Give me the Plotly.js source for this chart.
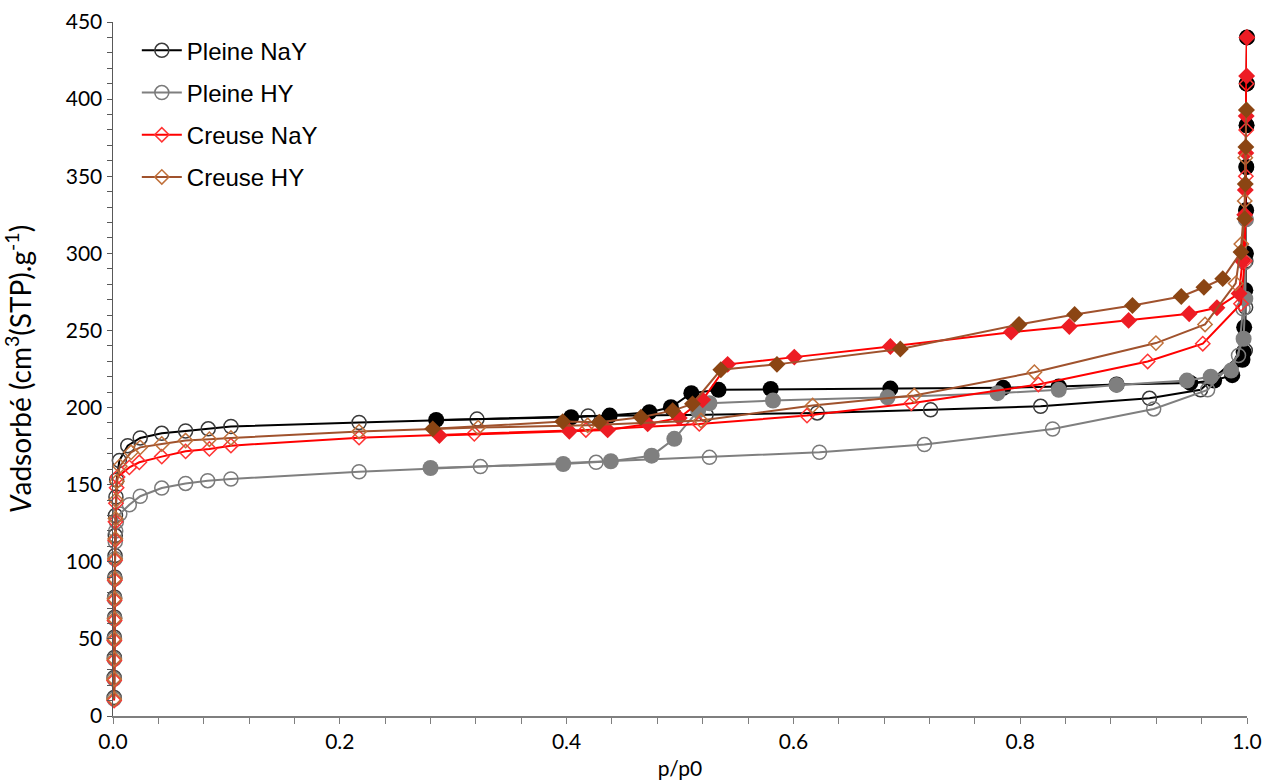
<!DOCTYPE html>
<html>
<head>
<meta charset="utf-8">
<script src="https://cdn.plot.ly/plotly-3.0.1.min.js"></script>
<style>
html,body{margin:0;padding:0;background:#fff;}
#chart{width:1268px;height:782px;}
</style>
</head>
<body>
<div id="chart"></div>
<script>
// ---------- DATA ----------
const seriesNames = ["Pleine NaY", "Pleine HY", "Creuse NaY", "Creuse HY"];

// Pleine NaY – adsorption (open) / desorption (filled)
const pleineNaY_adsX = [0.0010,0.0010,0.0012,0.0012,0.0014,0.0014,0.0016,0.0018,0.0020,0.0022,0.0026,0.0032,0.0056,0.013,0.024,0.043,0.064,0.084,0.104,0.217,0.321,0.419,0.523,0.621,0.721,0.818,0.914,0.959,0.9985,0.9988,0.9990,0.9992,0.9994,0.9996,0.9998,1.0];
const pleineNaY_adsY = [12,25,38,51,64,77,90,104,117,130,142,153,165.6,175.3,180.3,183.3,184.8,186.2,187.7,190.3,192.5,194.5,195.3,196.5,198.5,200.8,206,211.5,237,265,295,328,356,383,410,440];
const pleineNaY_desX = [1.0,0.9998,0.9996,0.9994,0.9992,0.999,0.9985,0.9975,0.997,0.996,0.987,0.971,0.95,0.885,0.834,0.785,0.6855,0.58,0.534,0.51,0.492,0.473,0.438,0.404,0.285];
const pleineNaY_desY = [440,410,383,356,328,300,276,252,236,231,221,217.5,216,215,213.6,212.8,212.3,212.1,211.5,209.3,200.2,197,194.8,193.7,192];

// Pleine HY
const pleineHY_adsX = [0.0010,0.0010,0.0012,0.0012,0.0014,0.0014,0.0016,0.0018,0.0020,0.0024,0.0030,0.006,0.0144,0.024,0.043,0.064,0.0835,0.104,0.217,0.324,0.426,0.526,0.623,0.7155,0.8286,0.9177,0.9653,0.9925,0.9965,0.998,0.999];
const pleineHY_adsY = [11,24,37,50,63,76,89,102,113,120,126,131,137,142.5,147.8,150.8,152.6,153.7,158.4,161.7,164.5,167.7,171,176,186.1,199.1,211.5,233.8,264,294,322];
const pleineHY_desX = [0.999,0.9985,0.997,0.986,0.968,0.947,0.885,0.834,0.78,0.683,0.582,0.526,0.516,0.495,0.475,0.439,0.397,0.28];
const pleineHY_desY = [322,270.6,244.6,224,220,217.5,214.7,211.5,209.3,206.7,204.5,202.8,198,179.7,168.8,165.2,163.4,160.8];

// Creuse NaY
const creuseNaY_adsX = [0.0010,0.0010,0.0012,0.0012,0.0014,0.0014,0.0016,0.0018,0.0020,0.0022,0.0026,0.0032,0.0040,0.0144,0.0232,0.043,0.064,0.085,0.104,0.217,0.3186,0.417,0.517,0.612,0.704,0.816,0.9124,0.961,0.9947,0.998,0.9985,0.999,0.9993,0.9996,0.9999];
const creuseNaY_adsY = [10,23,36,49,62,75,88,101,114,126,138,148,155,161.2,164.5,168.2,171.6,173.2,175.3,180.5,183,185.5,189.4,194.8,202.8,215,229.9,241.4,267.3,295,322,350,380,410,440];
const creuseNaY_desX = [0.9999,0.9997,0.9993,0.999,0.9985,0.998,0.996,0.993,0.9735,0.949,0.8956,0.8433,0.792,0.6855,0.6008,0.542,0.52,0.4994,0.4715,0.4362,0.4024,0.2878];
const creuseNaY_desY = [440,415,389,365,341,325,295,274,264.7,260.8,256.5,252.6,248.9,239.6,232.7,228,205,193.3,189.4,185.5,184.6,181.8];

// Creuse HY
const creuseHY_adsX = [0.0010,0.0010,0.0012,0.0012,0.0014,0.0014,0.0016,0.0018,0.0020,0.0022,0.0026,0.0034,0.0060,0.0159,0.024,0.043,0.064,0.085,0.104,0.217,0.322,0.4186,0.5185,0.617,0.7066,0.8125,0.9197,0.963,0.99,0.995,0.998,0.9985,0.9995];
const creuseHY_adsY = [11,24,37,50,63,76,89,102,115,128,140,152,162,171,174.2,176.4,178.6,179.5,180.3,184.4,187,188.5,191.6,201.3,207.8,222.9,241.8,253.9,280.5,306,334,362,393];
const creuseHY_desX = [0.9995,0.999,0.9985,0.998,0.9947,0.9786,0.962,0.942,0.899,0.848,0.799,0.6943,0.5855,0.536,0.511,0.4935,0.4656,0.4288,0.3966,0.282];
const creuseHY_desY = [393,369,345,322.5,300.8,283.6,278,272,266.2,260.4,253.9,238,228,224.5,202.4,198,193.7,190.5,190.9,186.2];

const xTickVals = [0, 0.2, 0.4, 0.6, 0.8, 1.0];
const xTickText = ["0.0", "0.2", "0.4", "0.6", "0.8", "1.0"];

// ---------- STYLE ----------
function pair(name, group, adsX, adsY, desX, desY, lineColor, openSym, openColor, fillSym, fillColor, openSize, fillSize) {
  return [
    {
      x: adsX, y: adsY, name: name, legendgroup: group, showlegend: true,
      type: "scatter", mode: "lines+markers", cliponaxis: false,
      line: {color: lineColor, width: 2},
      marker: {symbol: openSym, size: openSize, color: openColor, line: {color: openColor, width: 1.5}}
    },
    {
      x: desX, y: desY, name: name + " (désorption)", legendgroup: group, showlegend: false,
      type: "scatter", mode: "lines+markers", cliponaxis: false,
      line: {color: lineColor, width: 2},
      marker: {symbol: fillSym, size: fillSize, color: fillColor, line: {width: 0}}
    }
  ];
}

const data = [].concat(
  pair(seriesNames[0], "g1", pleineNaY_adsX, pleineNaY_adsY, pleineNaY_desX, pleineNaY_desY, "#000000", "circle-open", "#3a3a3a", "circle", "#000000", 14, 16),
  pair(seriesNames[1], "g2", pleineHY_adsX, pleineHY_adsY, pleineHY_desX, pleineHY_desY, "#7f7f7f", "circle-open", "#7a7a7a", "circle", "#7f7f7f", 14, 16),
  pair(seriesNames[2], "g3", creuseNaY_adsX, creuseNaY_adsY, creuseNaY_desX, creuseNaY_desY, "#ff0000", "diamond-open", "#ff3333", "diamond", "#ed1c24", 11, 13),
  pair(seriesNames[3], "g4", creuseHY_adsX, creuseHY_adsY, creuseHY_desX, creuseHY_desY, "#a0522d", "diamond-open", "#c0703a", "diamond", "#8b4513", 11, 13)
);

const tickFont = {family: "Lato, 'Open Sans', sans-serif", size: 21, color: "#000"};

const layout = {
  width: 1268, height: 782,
  paper_bgcolor: "#fff", plot_bgcolor: "#fff",
  margin: {l: 113, r: 21, t: 22, b: 66},
  showlegend: true,
  legend: {
    x: 0.021, y: 0.991, xanchor: "left", yanchor: "top",
    font: {family: "'Liberation Sans', Arial, sans-serif", size: 24, color: "#000"},
    bgcolor: "rgba(255,255,255,0)", borderwidth: 0,
    traceorder: "grouped", tracegroupgap: 8, itemwidth: 40
  },
  xaxis: {
    range: [0, 1.0], showgrid: false, zeroline: false,
    showline: true, linecolor: "#7f7f7f", linewidth: 1.5,
    tickmode: "array", tickvals: xTickVals, ticktext: xTickText,
    ticks: "outside", ticklen: 6, tickcolor: "#7f7f7f", tickwidth: 1,
    minor: {dtick: 0.04, tick0: 0, ticks: "outside", ticklen: 6, tickcolor: "#7f7f7f", tickwidth: 1, showgrid: false},
    tickfont: tickFont,
    title: {text: "p/p0", font: tickFont, standoff: 9},
    automargin: false
  },
  yaxis: {
    range: [0, 450], showgrid: false, zeroline: false,
    showline: true, linecolor: "#595959", linewidth: 1.5,
    dtick: 50, tick0: 0,
    ticks: "outside", ticklen: 5, tickcolor: "#595959", tickwidth: 1,
    minor: {dtick: 10, ticks: "outside", ticklen: 5, tickcolor: "#595959", tickwidth: 1, showgrid: false},
    tickfont: tickFont,
    title: {text: "<i>V</i>adsorbé (cm<sup>3</sup>(STP).g<sup>-1</sup>)", font: {family: "Lato, 'Open Sans', sans-serif", size: 28, color: "#000"}, standoff: 28},
    automargin: false
  }
};

Plotly.newPlot("chart", data, layout, {displayModeBar: false, staticPlot: true});
</script>
</body>
</html>
